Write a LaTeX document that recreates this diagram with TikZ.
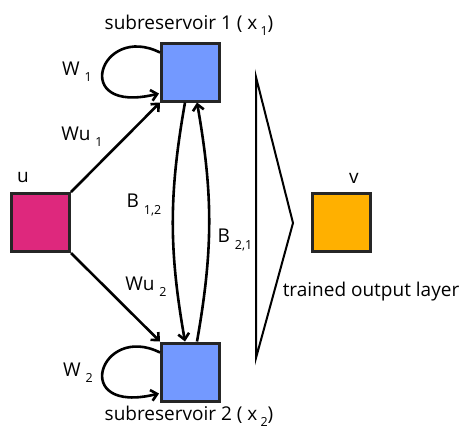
\documentclass[tikz,border=0pt]{standalone}
\usepackage{fontspec}
\setmainfont{Open Sans}
\usetikzlibrary{arrows.meta,calc}
\definecolor{inputpink}{RGB}{222,40,125}
\definecolor{resblue}{RGB}{115,153,255}
\definecolor{outorange}{RGB}{255,176,0}
\newcommand{\lsub}[1]{\raisebox{-0.6ex}{\fontsize{12.5}{12.5}\selectfont #1}}
\begin{document}
\begin{tikzpicture}[x=1pt,y=-1pt,font=\fontsize{19}{21}\selectfont]
   \tikzstyle{unit}=[draw=black!85,line width=3pt,minimum size=58pt,inner sep=0pt]
   \tikzstyle{arrow}=[line width=2.6pt,draw,-{Straight Barb[length=6pt,width=11pt]}]
   \tikzstyle{lbl}=[inner sep=0pt]
   \useasboundingbox (0,0) rectangle (465,429);
   % units
   \node (u) [unit,fill=inputpink] at (40.5,222.5) {} ;
   \node (res1) [unit,fill=resblue] at (190.5,72) {} ;
   \node (res2) [unit,fill=resblue] at (190.5,372) {} ;
   \node (v) [unit,fill=outorange] at (341,222.5) {} ;
   % readout
   \coordinate (rtop) at (256,77) ;
   \coordinate (rtip) at (293,223) ;
   \coordinate (rbot) at (256,358) ;
   \draw [line width=2pt] (rtop) -- (rtip) -- (rbot) -- cycle ;
   % connections
   \path [arrow] (u.north east) -- (res1.south west) ;
   \path [arrow] (u.south east) -- (res2.north west) ;
   \path [arrow] ($(res1.south)+(-5.5,0)$) to [bend right=10] ($(res2.north)+(-5.5,0)$) ;
   \path [arrow] ($(res2.north)+(6.5,0)$) to [bend right=10] ($(res1.south)+(6.5,0)$) ;
   \path [arrow] ($(res1.north west)+(0,11)$) .. controls +(-60,-30) and +(-90,22) .. ($(res1.south west)+(-1,-9)$) ;
   \path [arrow] ($(res2.north west)+(0,11)$) .. controls +(-60,-30) and +(-90,22) .. ($(res2.south west)+(-1,-9)$) ;
   % labels
   \node (l1) [lbl] at (189,25) {subreservoir 1 ( x\,\lsub{1})} ;
   \node (l2) [lbl] at (189,416) {subreservoir 2 ( x\,\lsub{2})} ;
   \node (lw1) [lbl] at (77,72) {W \lsub{1}} ;
   \node (lw2) [lbl] at (78,373) {W \lsub{2}} ;
   \node (lwu1) [lbl] at (82,137) {Wu \lsub{1}} ;
   \node (lwu2) [lbl] at (146,287) {Wu \lsub{2}} ;
   \node (lb12) [lbl] at (144,205) {B \lsub{1,2}} ;
   \node (lb21) [lbl] at (235,240) {B \lsub{2,1}} ;
   \node (lu) [lbl] at (23,178) {u} ;
   \node (lv) [lbl] at (354,178) {v} ;
   \node (lout) [lbl] at (371,292) {trained output layer} ;
\end{tikzpicture}
\end{document}
